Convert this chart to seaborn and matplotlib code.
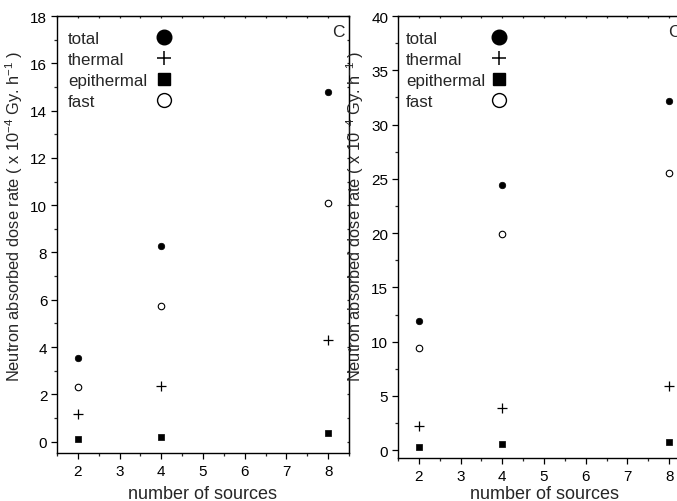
import matplotlib
matplotlib.use("Agg")
import matplotlib.pyplot as plt
from matplotlib.lines import Line2D
from matplotlib.ticker import MultipleLocator
import seaborn as sns

# number of sources
sources = [2, 4, 8]

# panel 1 dose rates (x 10^-4 Gy/h)
total_a = [3.54, 8.28, 14.8]
thermal_a = [1.17, 2.34, 4.32]
epithermal_a = [0.11, 0.20, 0.37]
fast_a = [2.31, 5.72, 10.1]

# panel 2 dose rates (x 10^-4 Gy/h)
total_b = [11.9, 24.4, 32.2]
thermal_b = [2.2, 3.9, 5.9]
epithermal_b = [0.25, 0.55, 0.75]
fast_b = [9.4, 19.9, 25.5]

labels = ["total", "thermal", "epithermal", "fast"]

sns.set_style("ticks")
plt.rcParams["font.family"] = ["Liberation Sans", "DejaVu Sans"]
plt.rcParams["mathtext.fontset"] = "custom"
plt.rcParams["mathtext.rm"] = "Liberation Sans"

fig = plt.figure(figsize=(6.77, 5.02), dpi=100)
ax1 = fig.add_axes([0.0842, 0.0956, 0.4313, 0.8705])
ax2 = fig.add_axes([0.5879, 0.0850, 0.4313, 0.8810])

ylabel = r"Neutron absorbed dose rate ( x 10$^{-4}$ Gy. h$^{-1}$ )"


def draw_panel(ax, total, thermal, epi, fast, ylim, major, minor,
               label_y, xlabel_y, legend_y, text_x, marker_x, tag_x):
    sns.scatterplot(x=sources, y=total, ax=ax, marker="o", s=22,
                    color="black", edgecolor="black", linewidth=0.5, zorder=3)
    sns.scatterplot(x=sources, y=thermal, ax=ax, marker="+", s=45,
                    color="black", linewidth=0.9, zorder=3)
    sns.scatterplot(x=sources, y=epi, ax=ax, marker="s", s=24,
                    color="black", edgecolor="black", linewidth=0.5, zorder=3)
    sns.scatterplot(x=sources, y=fast, ax=ax, marker="o", s=22,
                    facecolor="white", edgecolor="black", linewidth=0.8, zorder=3)

    ax.set_xlim(1.5, 8.5)
    ax.set_ylim(*ylim)
    ax.xaxis.set_major_locator(MultipleLocator(1))
    ax.xaxis.set_minor_locator(MultipleLocator(0.5))
    ax.yaxis.set_major_locator(MultipleLocator(major))
    ax.yaxis.set_minor_locator(MultipleLocator(minor))
    ax.tick_params(axis="both", which="major", direction="out", length=4,
                   width=0.9, labelsize=11, colors="black")
    ax.tick_params(axis="x", which="major", pad=4)
    ax.tick_params(axis="y", which="major", pad=3)
    ax.tick_params(axis="both", which="minor", direction="out", length=2.5,
                   width=0.9)
    for sp in ax.spines.values():
        sp.set_linewidth(1.0)
        sp.set_color("black")

    # tiny ticks on the top and right frame
    top = ax.secondary_xaxis("top")
    top.xaxis.set_major_locator(MultipleLocator(1))
    top.xaxis.set_minor_locator(MultipleLocator(0.5))
    top.tick_params(which="both", direction="in", length=1.5, width=0.9,
                    labeltop=False)
    right = ax.secondary_yaxis("right")
    right.yaxis.set_major_locator(MultipleLocator(major))
    right.yaxis.set_minor_locator(MultipleLocator(minor))
    right.tick_params(which="both", direction="in", length=1.5, width=0.9,
                      labelright=False)

    ax.set_xlabel("number of sources", fontsize=13)
    ax.xaxis.set_label_coords(0.5, xlabel_y)
    ax.set_ylabel(ylabel, fontsize=11.8)
    ax.yaxis.set_label_coords(-0.108, label_y)

    # text column
    blank = [Line2D([], [], linestyle="none") for _ in labels]
    leg_text = ax.legend(blank, labels, loc="upper left",
                         bbox_to_anchor=(text_x, legend_y), frameon=False,
                         fontsize=12.2, handlelength=0, handletextpad=0,
                         labelspacing=0.35, borderpad=0, borderaxespad=0)
    ax.add_artist(leg_text)

    # marker column
    handles = [
        Line2D([], [], marker="o", linestyle="none", markersize=10.5,
               markerfacecolor="black", markeredgecolor="black"),
        Line2D([], [], marker="+", linestyle="none", markersize=10,
               markeredgewidth=1.1, color="black"),
        Line2D([], [], marker="s", linestyle="none", markersize=8.5,
               markerfacecolor="black", markeredgecolor="black"),
        Line2D([], [], marker="o", linestyle="none", markersize=10,
               markerfacecolor="white", markeredgecolor="black",
               markeredgewidth=1.0),
    ]
    leg_mk = ax.legend(handles, labels, loc="upper left",
                       bbox_to_anchor=(marker_x, legend_y), frameon=False,
                       fontsize=12.2, handlelength=1.0, handletextpad=0.4,
                       labelspacing=0.35, borderpad=0, borderaxespad=0)
    for t in leg_mk.get_texts():
        t.set_alpha(0)

    ax.text(tag_x, 0.982, "C", transform=ax.transAxes, fontsize=12.5,
            ha="left", va="top")


draw_panel(ax1, total_a, thermal_a, epithermal_a, fast_a, (-0.48, 18), 2, 1,
           0.545, -0.073, 0.9655, 0.0377, 0.339, 0.942)
draw_panel(ax2, total_b, thermal_b, epithermal_b, fast_b, (-0.75, 40), 5, 2.5,
           0.55, -0.060, 0.966, 0.027, 0.318, 0.925)

fig.savefig("out.png", dpi=100)
